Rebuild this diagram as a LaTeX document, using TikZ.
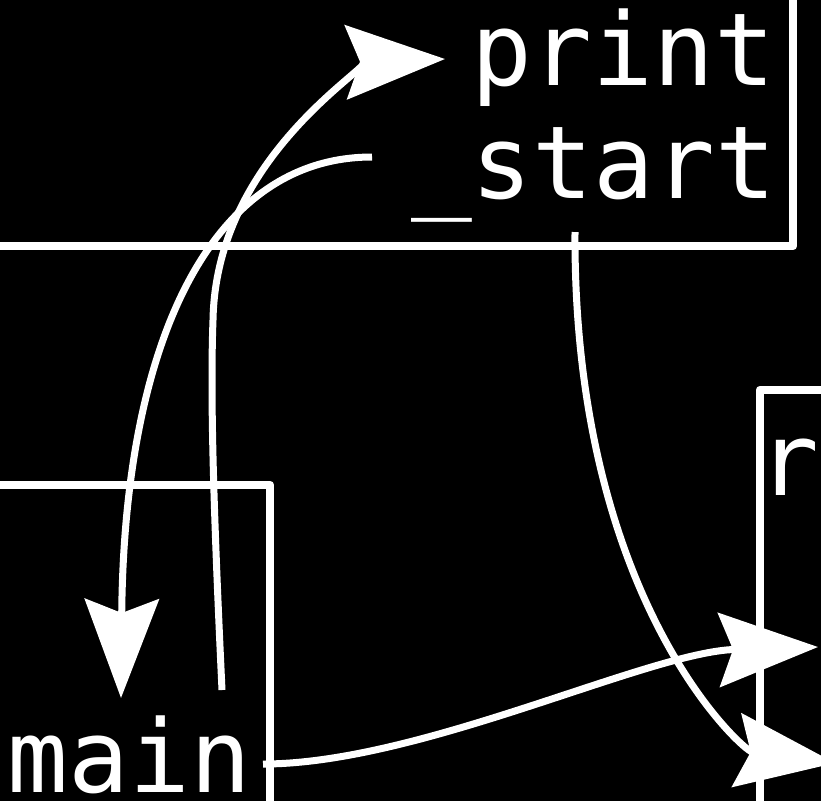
\documentclass[tikz,border=0pt]{standalone}
\usepackage{fontspec}
\newfontfamily\codefont{DejaVu Sans Mono}
\usetikzlibrary{arrows.meta}
\begin{document}
\begin{tikzpicture}[x=1pt,y=-1pt,
  wire/.style={draw=white, line width=7pt},
  frame/.style={draw=white, line width=8.5pt, line join=round},
  label/.style={text=white, font=\codefont\fontsize{101}{121}\selectfont,
    anchor=base west, inner sep=0pt, outer sep=0pt},
  head/.style={-{Stealth[length=99pt,width=74pt,inset=14pt]}}]
\useasboundingbox[fill=black] (0,0) rectangle (821,801);

% cluster frames
\draw[frame] (-20,246) -| (793,-20);
\draw[frame] (-20,485) -| (270,821);
\draw[frame] (841,390) -| (760,821);

% labels
\node[label] (print) at (471,85) {print};
\node[label] (start) at (411,198) {\_start};
\node[label] (main) at (8,792) {main};
\node[label] (r) at (758,495) {r};

% ports
\coordinate (main-top) at (222,690);
\coordinate (main-right) at (263,764);
\coordinate (start-left) at (372,157);
\coordinate (start-bottom) at (575,232);
\coordinate (print-in) at (445,59);
\coordinate (main-in) at (121,698);
\coordinate (r-in-upper) at (818,647);
\coordinate (r-in-lower) at (835,763);

% calls
\draw[wire,head] (main-top) .. controls (214,520) and (210,400) .. (213,320)
  .. controls (216,150) and (384,61) .. (print-in);
\draw[wire,head] (start-left) .. controls (210,157) and (124,344) .. (main-in);
\draw[wire,head] (start-bottom) .. controls (573,600) and (743,751) .. (r-in-lower);
\draw[wire,head] (main-right) .. controls (420,764) and (648,652) .. (r-in-upper);
\end{tikzpicture}
\end{document}
